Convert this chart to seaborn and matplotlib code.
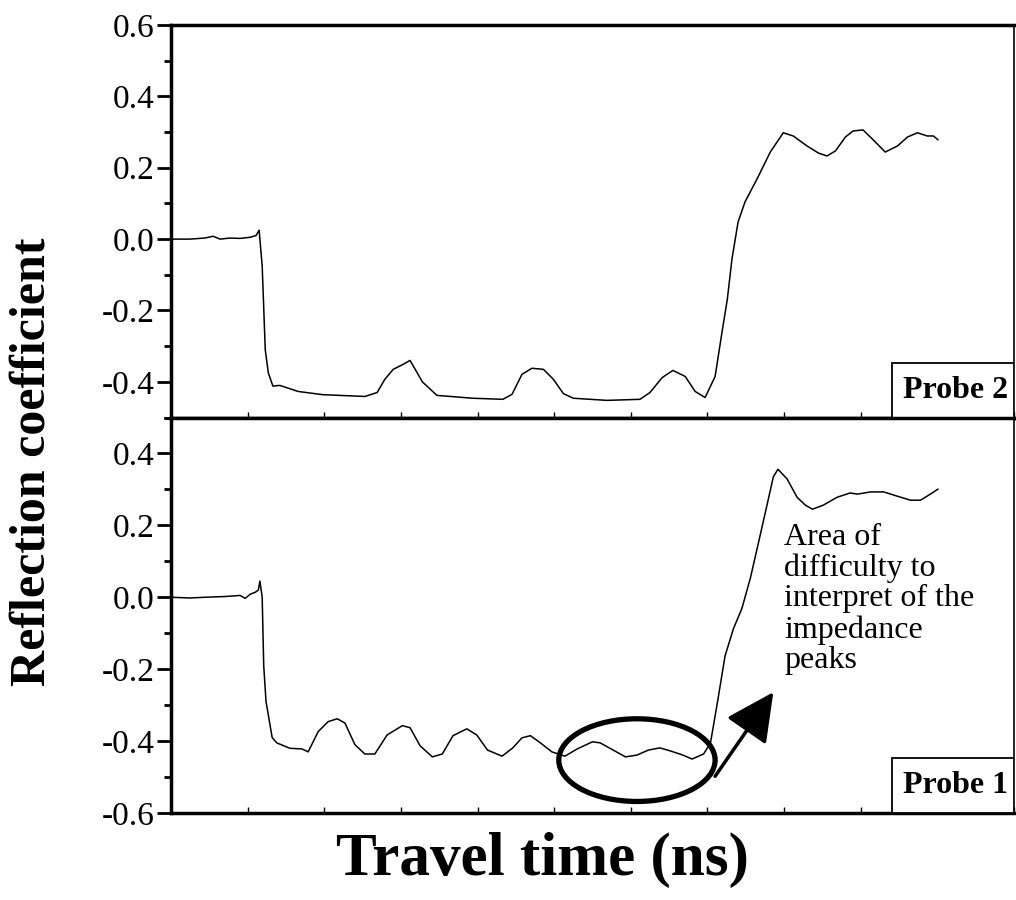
import matplotlib
matplotlib.use("Agg")
import matplotlib.pyplot as plt
import seaborn as sns
import pandas as pd
from matplotlib.patches import Ellipse, Rectangle
from matplotlib.ticker import FixedLocator, FormatStrFormatter

# ---------------- data ----------------
probe2_time = [0.00, 0.25, 0.44, 0.55, 0.64, 0.77, 0.90, 1.03, 1.11, 1.15, 1.19, 1.23, 1.27,
               1.33, 1.42, 1.66, 1.98, 2.53, 2.69, 2.79, 2.90, 3.02, 3.12, 3.28, 3.47, 3.94,
               4.33, 4.45, 4.58, 4.71, 4.86, 4.99, 5.12, 5.25, 5.69, 6.12, 6.25, 6.41, 6.55,
               6.71, 6.84, 6.97, 7.10, 7.19, 7.26, 7.32, 7.40, 7.49, 7.66, 7.82, 7.99, 8.12,
               8.30, 8.45, 8.56, 8.67, 8.80, 8.90, 9.03, 9.15, 9.32, 9.48, 9.61, 9.74, 9.87,
               9.95, 10.01]
probe2_refl = [0.000, 0.000, 0.003, 0.008, 0.000, 0.003, 0.002, 0.005, 0.010, 0.025, -0.075,
               -0.310, -0.375, -0.412, -0.410, -0.427, -0.436, -0.441, -0.430, -0.393, -0.365,
               -0.352, -0.340, -0.400, -0.438, -0.446, -0.449, -0.435, -0.379, -0.362, -0.365,
               -0.393, -0.433, -0.446, -0.452, -0.449, -0.430, -0.388, -0.368, -0.385, -0.427,
               -0.444, -0.385, -0.261, -0.168, -0.056, 0.048, 0.104, 0.174, 0.244, 0.298,
               0.289, 0.261, 0.241, 0.233, 0.247, 0.286, 0.303, 0.306, 0.281, 0.244, 0.261,
               0.286, 0.298, 0.289, 0.289, 0.278]

probe1_time = [0.00, 0.25, 0.44, 0.70, 0.90, 0.97, 1.03, 1.10, 1.14, 1.16, 1.19, 1.21, 1.24,
               1.32, 1.38, 1.55, 1.71, 1.79, 1.92, 2.05, 2.17, 2.27, 2.40, 2.53, 2.66, 2.82,
               3.02, 3.12, 3.25, 3.41, 3.54, 3.68, 3.86, 3.99, 4.13, 4.32, 4.46, 4.58, 4.69,
               4.82, 4.97, 5.14, 5.30, 5.50, 5.60, 5.77, 5.93, 6.08, 6.23, 6.38, 6.51, 6.68,
               6.80, 6.95, 7.04, 7.13, 7.23, 7.34, 7.45, 7.56, 7.66, 7.78, 7.86, 7.92, 8.04,
               8.17, 8.28, 8.37, 8.51, 8.69, 8.86, 8.96, 9.13, 9.30, 9.48, 9.65, 9.78, 9.91,
               10.01]
probe1_refl = [0.000, -0.002, 0.000, 0.002, 0.005, -0.003, 0.008, 0.014, 0.020, 0.045, 0.000,
               -0.190, -0.290, -0.390, -0.405, -0.420, -0.422, -0.430, -0.374, -0.346, -0.338,
               -0.350, -0.410, -0.436, -0.436, -0.383, -0.357, -0.363, -0.413, -0.444, -0.436,
               -0.385, -0.366, -0.383, -0.425, -0.442, -0.419, -0.391, -0.385, -0.405, -0.430,
               -0.442, -0.422, -0.402, -0.405, -0.425, -0.444, -0.439, -0.425, -0.419, -0.427,
               -0.439, -0.450, -0.436, -0.405, -0.293, -0.163, -0.087, -0.031, 0.053, 0.146,
               0.259, 0.335, 0.356, 0.329, 0.278, 0.256, 0.245, 0.256, 0.278, 0.290, 0.287,
               0.293, 0.293, 0.281, 0.270, 0.270, 0.287, 0.301]

probe_labels = ["Probe 2", "Probe 1"]
top_yticks = [-0.4, -0.2, 0.0, 0.2, 0.4, 0.6]
top_yminor = [-0.5, -0.3, -0.1, 0.1, 0.3, 0.5]
bot_yticks = [-0.6, -0.4, -0.2, 0.0, 0.2, 0.4]
bot_yminor = [-0.5, -0.3, -0.1, 0.1, 0.3, 0.5]
x_ticks = list(range(0, 12))
y_label = "Reflection coefficient"
x_label = "Travel time (ns)"
note_text = "Area of\ndifficulty to\ninterpret of the\nimpedance\npeaks"

# ---------------- style ----------------
sns.set_style("ticks")
plt.rcParams["font.family"] = ["Liberation Serif", "DejaVu Serif"]
plt.rcParams["axes.unicode_minus"] = False
for key in ["text.color", "axes.labelcolor", "xtick.color", "ytick.color", "axes.edgecolor"]:
    plt.rcParams[key] = "black"

fig = plt.figure(figsize=(10.16, 9.0), dpi=100)
ax_top = fig.add_axes([0.1683, 0.5361, 0.8297, 0.4361])
ax_bot = fig.add_axes([0.1683, 0.0967, 0.8297, 0.4394])

df2 = pd.DataFrame({"t": probe2_time, "r": probe2_refl})
df1 = pd.DataFrame({"t": probe1_time, "r": probe1_refl})

panels = [(ax_top, df2, (-0.5, 0.6), top_yticks, top_yminor, probe_labels[0]),
          (ax_bot, df1, (-0.6, 0.5), bot_yticks, bot_yminor, probe_labels[1])]

for ax, df, ylim, yt, ym, lab in panels:
    sns.lineplot(data=df, x="t", y="r", ax=ax, color="black", lw=1.1,
                 sort=False, estimator=None)
    ax.set_xlim(0, 11)
    ax.set_ylim(*ylim)
    ax.yaxis.set_major_locator(FixedLocator(yt))
    ax.yaxis.set_minor_locator(FixedLocator(ym))
    ax.yaxis.set_major_formatter(FormatStrFormatter("%.1f"))
    ax.xaxis.set_major_locator(FixedLocator(x_ticks))
    ax.tick_params(axis="y", which="major", direction="out", length=10, width=2,
                   labelsize=24, pad=2, left=True, colors="black")
    ax.tick_params(axis="y", which="minor", direction="out", length=5, width=2, left=True,
                   colors="black")
    ax.tick_params(axis="x", which="major", direction="in", length=4, width=1,
                   bottom=True, labelbottom=False, colors="black")
    for s in ["left", "top", "bottom"]:
        ax.spines[s].set_linewidth(2.5)
        ax.spines[s].set_visible(True)
        ax.spines[s].set_color("black")
    ax.spines["right"].set_visible(True)
    ax.spines["right"].set_linewidth(1.2)
    ax.spines["right"].set_color("black")
    ax.set_xlabel("")
    ax.set_ylabel("")
    ax.add_patch(Rectangle((0.855, 0.0), 0.145, 0.138, transform=ax.transAxes,
                           facecolor="white", edgecolor="black", lw=1.3, zorder=5))
    ax.text(0.993, 0.069, lab, transform=ax.transAxes, ha="right", va="center",
            fontsize=23, fontweight="bold", zorder=6, color="black")

# annotation in the Probe 1 panel
ax_bot.add_patch(Ellipse((6.08, -0.453), width=2.04, height=0.23, fill=False,
                         lw=3.8, edgecolor="black", zorder=4))
ax_bot.annotate("", xy=(7.86, -0.264), xytext=(7.10, -0.498),
                arrowprops=dict(arrowstyle="-|>,head_length=0.6,head_width=0.3",
                                mutation_scale=50, lw=2.5, color="black",
                                shrinkA=0, shrinkB=0))
ax_bot.text(8.0, 0.207, note_text, ha="left", va="top", fontsize=23, linespacing=1.07,
            color="black")

fig.text(0.032, 0.487, y_label, rotation=90, ha="center", va="center",
         fontsize=36, fontweight="bold", color="black")
fig.text(0.534, 0.045, x_label, ha="center", va="center", fontsize=44, fontweight="bold",
         color="black")

fig.savefig("out.png", dpi=100)
